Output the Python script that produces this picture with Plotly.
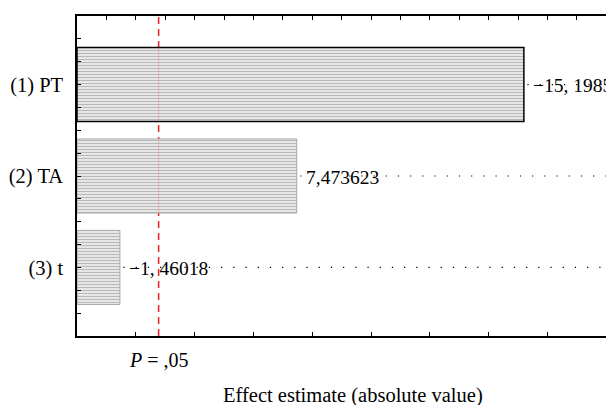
import plotly.graph_objects as go

categories = ["(1) PT", "(2) TA", "(3) t"]
effects = [-15.1985, 7.473623, -1.46018]
effect_labels = ["\u221215, 1985", "7,473623", "\u22121, 46018"]
p_critical = 2.776
p_label = "<i>P</i> = ,05"
x_title = "Effect estimate (absolute value)"
x_max = 18.23

FONT = "Liberation Serif"
BAR_W = 0.81

abs_vals = [abs(v) for v in effects]
ypos = list(range(len(categories)))

fig = go.Figure()

# red dashed p-line drawn below bars
fig.add_shape(type="line", x0=p_critical, x1=p_critical, y0=0, y1=1,
              xref="x", yref="paper", layer="below",
              line=dict(color="#e8202a", width=1.5, dash="7px,5px"))

border_colors = ["#000000", "#a8a8a8", "#a8a8a8"]
border_widths = [1.5, 1, 1]
fig.add_trace(go.Bar(
    x=abs_vals, y=ypos, orientation="h", width=BAR_W,
    marker=dict(color="#eaeaea",
                line=dict(color=border_colors, width=border_widths),
                pattern=dict(shape="-", size=3, solidity=0.4,
                             fgcolor="#b8b8b8", bgcolor="#ededed", fillmode="replace")),
    showlegend=False, hoverinfo="skip"))

# faint pink line through bars
for yi, v in zip(ypos, abs_vals):
    if v > p_critical:
        fig.add_trace(go.Scatter(x=[p_critical, p_critical], y=[yi - BAR_W / 2, yi + BAR_W / 2],
                                 mode="lines", line=dict(color="rgba(240,120,120,0.35)", width=1),
                                 showlegend=False, hoverinfo="skip"))

# dotted leader lines
for yi, v in zip(ypos, abs_vals):
    fig.add_trace(go.Scatter(x=[v + 0.12, x_max], y=[yi, yi], mode="lines",
                             line=dict(color="#000000", width=1.2, dash="1.2px,11px"),
                             showlegend=False, hoverinfo="skip"))

# dummy trace for top axis
fig.add_trace(go.Scatter(x=[0], y=[0], xaxis="x2", mode="markers",
                         marker=dict(opacity=0), showlegend=False, hoverinfo="skip"))

for yi, v, lab in zip(ypos, abs_vals, effect_labels):
    fig.add_annotation(x=v, y=yi, text=lab, xanchor="left", yanchor="middle",
                       xshift=7, yshift=-1, showarrow=False,
                       font=dict(family=FONT, size=19.5, color="#000"))

fig.add_annotation(x=p_critical, y=0, yref="paper", text=p_label, xanchor="center",
                   yanchor="top", yshift=-11, showarrow=False,
                   font=dict(family=FONT, size=20, color="#000"))
fig.add_annotation(x=0.515, y=0, xref="paper", yref="paper", text=x_title, xanchor="center",
                   yanchor="top", yshift=-46, showarrow=False,
                   font=dict(family=FONT, size=20.5, color="#000"))

ytick_vals = [-0.75 + 0.25 * k for k in range(15)]
ytick_text = [categories[int(v)] if float(v).is_integer() and 0 <= v < len(categories) else "" for v in ytick_vals]

fig.update_layout(
    width=606, height=397,
    margin=dict(l=69, r=1, t=8, b=69, autoexpand=False),
    plot_bgcolor="white", paper_bgcolor="white",
    font=dict(family=FONT, size=18, color="#000"),
    xaxis=dict(range=[0, x_max], showgrid=False, zeroline=False, showline=True,
               linecolor="#000", linewidth=1.5, ticks="inside", ticklen=4,
               tickcolor="#000", tickvals=list(range(2, 19, 2)), showticklabels=False,
               automargin=False),
    xaxis2=dict(range=[0, x_max], overlaying="x", side="top", showgrid=False,
                zeroline=False, showline=True, linecolor="#000", linewidth=1.5,
                ticks="inside", ticklen=4, tickcolor="#000",
                tickvals=list(range(1, 19)), showticklabels=False, automargin=False),
    yaxis=dict(range=[2.75, -0.75], showgrid=False, zeroline=False, showline=True,
               linecolor="#000", linewidth=1.5, mirror="ticks", ticks="inside",
               ticklen=4, tickcolor="#000", tickvals=ytick_vals, ticktext=ytick_text,
               ticklabelstandoff=8, tickfont=dict(family=FONT, size=20.5),
               automargin=False),
)

fig.write_html("out.html")
